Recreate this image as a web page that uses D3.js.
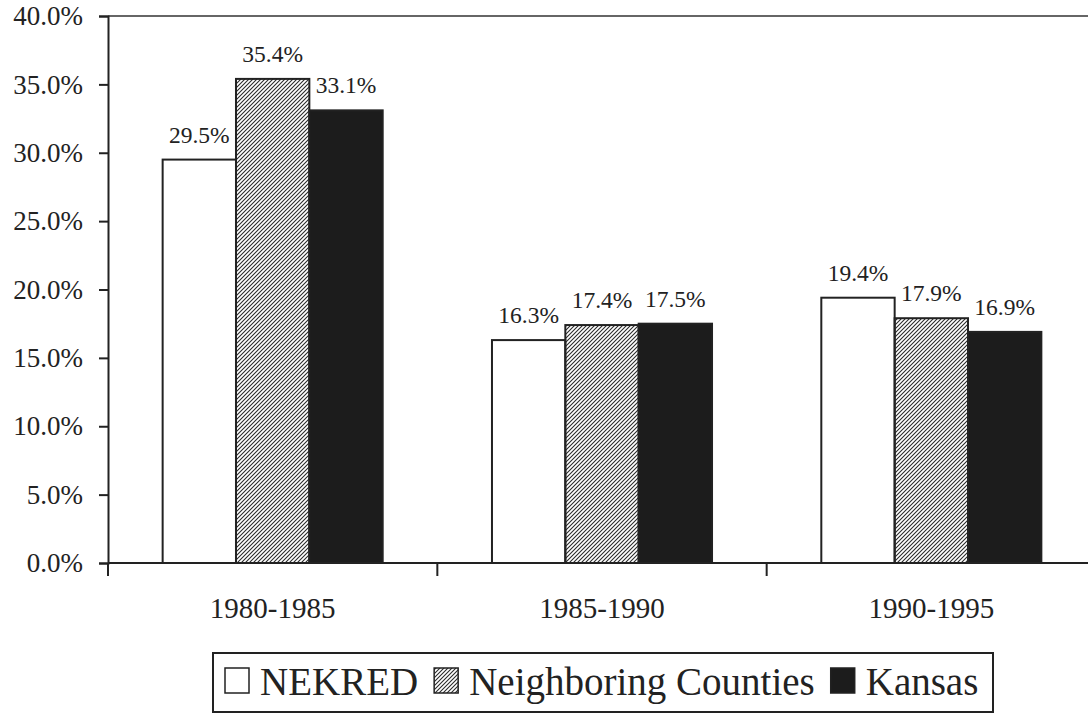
<!DOCTYPE html>
<html>
<head>
<meta charset="utf-8">
<script src="https://cdn.jsdelivr.net/npm/d3@7"></script>
<style>
  body { margin: 0; background: #fff; }
  svg { display: block; }
</style>
</head>
<body>
<svg id="chart"></svg>
<script>
const width = 1088, height = 715;
const serif = "'Liberation Serif', 'Times New Roman', Times, serif";

// data
const periods = ["1980-1985", "1985-1990", "1990-1995"];
const series = ["NEKRED", "Neighboring Counties", "Kansas"];
const nekred = [29.5, 16.3, 19.4];
const neighbors = [35.4, 17.4, 17.9];
const kansas = [33.1, 17.5, 16.9];
const yTicks = [0, 5, 10, 15, 20, 25, 30, 35, 40];

const values = [nekred, neighbors, kansas];
const rows = [];
periods.forEach((p, i) => {
    series.forEach((s, j) => {
        rows.push({period: p, series: s, value: values[j][i]});
    });
});

const svg = d3.select("#chart")
    .attr("width", width)
    .attr("height", height)
    .attr("font-family", serif);

// hatch for neighboring counties
const defs = svg.append("defs");
defs.append("pattern")
    .attr("id", "hatch")
    .attr("patternUnits", "userSpaceOnUse")
    .attr("width", 4)
    .attr("height", 4)
  .append("path")
    .attr("d", "M-1,1 l2,-2 M0,4 l4,-4 M3,5 l2,-2")
    .attr("stroke", "#2a2a2a")
    .attr("stroke-width", 1.1);

const fills = {
    "NEKRED": "#ffffff",
    "Neighboring Counties": "url(#hatch)",
    "Kansas": "#1c1c1c"
};

const plotLeft = 108, plotRight = 1096, plotTop = 16, plotBottom = 563;

const x = d3.scaleBand()
    .domain(periods)
    .range([plotLeft, plotRight]);

const xSub = d3.scaleBand()
    .domain(series)
    .range([0, x.bandwidth()])
    .paddingOuter(0.745);

const y = d3.scaleLinear()
    .domain([0, 40])
    .range([plotBottom, plotTop]);

// top border of the plot
svg.append("line")
    .attr("x1", plotLeft).attr("x2", plotRight)
    .attr("y1", y(40)).attr("y2", y(40))
    .attr("stroke", "#333")
    .attr("stroke-width", 1.6);

// bars
svg.append("g")
    .selectAll("rect")
    .data(rows)
    .join("rect")
    .attr("x", d => x(d.period) + xSub(d.series))
    .attr("y", d => y(d.value))
    .attr("width", xSub.bandwidth())
    .attr("height", d => y(0) - y(d.value))
    .attr("fill", d => fills[d.series])
    .attr("stroke", "#222")
    .attr("stroke-width", 2);

// value labels
svg.append("g")
    .selectAll("text")
    .data(rows)
    .join("text")
    .attr("x", d => x(d.period) + xSub(d.series) + xSub.bandwidth() / 2)
    .attr("y", d => y(d.value) - 17)
    .attr("text-anchor", "middle")
    .attr("font-size", 23.5)
    .attr("fill", "#222")
    .text(d => d.value.toFixed(1) + "%");

// y axis
const yAxis = svg.append("g")
    .attr("transform", `translate(${plotLeft},0)`)
    .call(d3.axisLeft(y)
        .tickValues(yTicks)
        .tickSize(9)
        .tickPadding(16)
        .tickFormat(d => d.toFixed(1) + "%"))
    .attr("font-family", serif);
yAxis.select(".domain").attr("stroke", "#222").attr("stroke-width", 2);
yAxis.selectAll(".tick line").attr("stroke", "#222").attr("stroke-width", 2);
yAxis.selectAll(".tick text")
    .attr("font-size", 27)
    .attr("fill", "#222");

// x axis: line, ticks between categories, labels under each group
svg.append("line")
    .attr("x1", plotLeft).attr("x2", plotRight)
    .attr("y1", plotBottom).attr("y2", plotBottom)
    .attr("stroke", "#222")
    .attr("stroke-width", 2);

const bounds = periods.map(p => x(p)).concat([plotRight]);
svg.append("g")
    .selectAll("line")
    .data(bounds)
    .join("line")
    .attr("x1", d => d).attr("x2", d => d)
    .attr("y1", plotBottom).attr("y2", plotBottom + 13)
    .attr("stroke", "#222")
    .attr("stroke-width", 2);

svg.append("g")
    .selectAll("text")
    .data(periods)
    .join("text")
    .attr("x", d => x(d) + x.bandwidth() / 2)
    .attr("y", 618)
    .attr("text-anchor", "middle")
    .attr("font-size", 29)
    .attr("fill", "#222")
    .text(d => d);

// legend
const legend = svg.append("g");
legend.append("rect")
    .attr("x", 213).attr("y", 653)
    .attr("width", 780).attr("height", 59)
    .attr("fill", "none")
    .attr("stroke", "#222")
    .attr("stroke-width", 2);

let lx = 225;
series.forEach(s => {
    legend.append("rect")
        .attr("x", lx).attr("y", 668)
        .attr("width", 24).attr("height", 25)
        .attr("fill", fills[s])
        .attr("stroke", "#222")
        .attr("stroke-width", 1.5);
    const t = legend.append("text")
        .attr("x", lx + 35)
        .attr("y", 695)
        .attr("font-size", 39)
        .attr("fill", "#222")
        .text(s);
    lx = lx + 35 + t.node().getComputedTextLength() + 16;
});
</script>
</body>
</html>
